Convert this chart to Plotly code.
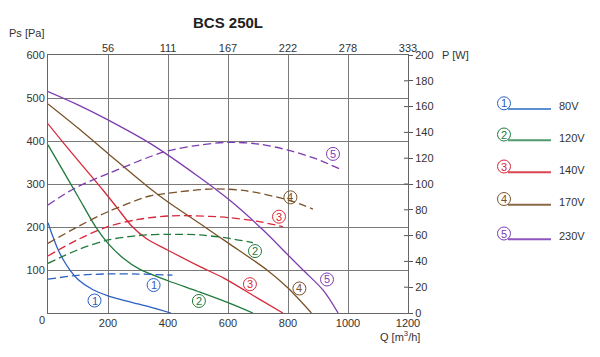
import plotly.graph_objects as go

# ---------------- data ----------------
volt_labels = ["80V", "120V", "140V", "170V", "230V"]
curve_ids = ["1", "2", "3", "4", "5"]
colors = ["#2b5fc0", "#1f7a3c", "#d7283a", "#7a5229", "#7d3cb2"]
legend_colors = ["#5b8ed2", "#4f9a6c", "#db4450", "#8a6a45", "#8d55be"]

# pressure curves Ps [Pa] vs Q [m3/h]
q_80 = [0, 15, 30, 50, 75, 100, 150, 200, 250, 300, 350, 410]
ps_80 = [210, 180, 153, 125, 98, 78, 54, 40, 30, 21, 12, 0]
q_120 = [0, 50, 100, 160, 200, 250, 305, 400, 500, 600, 683]
ps_120 = [391, 331, 271, 199, 162, 128, 102, 75, 50, 24, 0]
q_140 = [0, 50, 100, 183, 230, 278, 330, 400, 500, 589, 700, 783]
ps_140 = [440, 397, 355, 286, 245, 203, 172, 146, 110, 80, 34, 0]
q_170 = [0, 100, 200, 339, 400, 506, 600, 730, 800, 878]
ps_170 = [486, 430, 371, 290, 258, 208, 163, 100, 58, 0]
q_230 = [0, 100, 200, 339, 500, 606, 717, 800, 850, 917, 967]
ps_230 = [515, 484, 449, 395, 318, 262, 193, 135, 100, 53, 0]

# power curves P [W] vs Q [m3/h]
qp_80 = [0, 100, 200, 300, 415]
p_80 = [26.2, 29.2, 30.3, 30.2, 29.3]
qp_120 = [0, 100, 200, 300, 400, 506, 600, 683]
p_120 = [38.5, 49, 56.6, 60, 61, 60.5, 58, 54.5]
qp_140 = [0, 100, 200, 300, 400, 472, 600, 700, 783]
p_140 = [44.2, 57, 66.9, 72.5, 75.2, 75.4, 74, 71, 66.9]
qp_170 = [0, 100, 200, 339, 400, 539, 650, 800, 883]
p_170 = [54, 67, 78.5, 90.7, 92.8, 96.1, 95, 87.6, 80.6]
qp_230 = [0, 89, 200, 389, 500, 600, 700, 800, 900, 978]
p_230 = [83.7, 96.7, 108, 125, 130, 132.3, 131, 126.3, 119, 111]

q_ticks = [200, 400, 600, 800, 1000, 1200]
ls_ticks = ["56", "111", "167", "222", "278", "333"]
ps_ticks = [100, 200, 300, 400, 500, 600]
p_ticks = list(range(0, 201, 20))

pressure = [(q_80, ps_80), (q_120, ps_120), (q_140, ps_140), (q_170, ps_170), (q_230, ps_230)]
power = [(qp_80, p_80), (qp_120, p_120), (qp_140, p_140), (qp_170, p_170), (qp_230, p_230)]

# curve label positions (Q, Ps-scale) : solid label, dashed label
label_solid = [(155, 29), (503, 28), (673, 67), (838, 57), (930, 78)]
label_dash = [(352, 65), (690, 144), (770, 224), (808, 269), (950, 370)]

# ---------------- geometry helpers ----------------
L, R, T, B = 48, 192, 55, 44
W, H = 600, 357
PW, PH = W - L - R, H - T - B


def pxx(x):
    return (x - L) / PW


def pxy(y):
    return (H - B - y) / PH


FONT = "Liberation Sans, Arial, sans-serif"
TXT = "#333333"

fig = go.Figure()

for (q, ps), c in zip(pressure, colors):
    fig.add_trace(go.Scatter(x=q, y=ps, mode="lines", xaxis="x", yaxis="y",
                             line=dict(color=c, width=1.3, shape="spline", smoothing=0.9),
                             hoverinfo="skip", showlegend=False))
for (q, p), c in zip(power, colors):
    fig.add_trace(go.Scatter(x=q, y=p, mode="lines", xaxis="x", yaxis="y2",
                             line=dict(color=c, width=1.3, dash="8px,4px", shape="spline", smoothing=0.9),
                             hoverinfo="skip", showlegend=False))
# dummy trace to show the top axis
fig.add_trace(go.Scatter(x=[0, 1200], y=[0, 0], xaxis="x2", yaxis="y", mode="none",
                         hoverinfo="skip", showlegend=False))

shapes = []
annotations = []

# circled labels on curves
for lid, c, ls, ld in zip(curve_ids, colors, label_solid, label_dash):
    for (qx, py_) in (ls, ld):
        shapes.append(dict(type="circle", xref="x", yref="y", xsizemode="pixel", ysizemode="pixel",
                           xanchor=qx, yanchor=py_, x0=-6.5, x1=6.5, y0=-6.5, y1=6.5,
                           line=dict(color=c, width=1)))
        annotations.append(dict(x=qx, y=py_, xref="x", yref="y", text=lid, showarrow=False,
                                font=dict(family=FONT, size=11, color=c),
                                xanchor="center", yanchor="middle"))

# legend (drawn manually)
leg_circle_y = [103.3, 134.5, 166.5, 199, 233.5]
for i, (lid, c, lc, lab) in enumerate(zip(curve_ids, colors, legend_colors, volt_labels)):
    cy = leg_circle_y[i]
    cx = 504
    shapes.append(dict(type="circle", xref="paper", yref="paper", xsizemode="pixel", ysizemode="pixel",
                       xanchor=pxx(cx), yanchor=pxy(cy), x0=-6.5, x1=6.5, y0=-6.5, y1=6.5,
                       line=dict(color=c, width=1)))
    annotations.append(dict(x=pxx(cx), y=pxy(cy), xref="paper", yref="paper", text=lid, showarrow=False,
                            font=dict(family=FONT, size=11, color=c), xanchor="center", yanchor="middle"))
    shapes.append(dict(type="line", xref="paper", yref="paper", x0=pxx(508), x1=pxx(551),
                       y0=pxy(cy + 5.8), y1=pxy(cy + 5.8), line=dict(color=lc, width=2)))
    annotations.append(dict(x=pxx(556.5), y=pxy(cy + 3), xref="paper", yref="paper", text=lab,
                            showarrow=False, font=dict(family=FONT, size=11, color=TXT),
                            xanchor="left", yanchor="middle"))

# inner parts of right-axis tick marks
for v in p_ticks[1:-1]:
    shapes.append(dict(type="line", xref="paper", yref="paper", x0=pxx(404), x1=1.0,
                       y0=v / 200, y1=v / 200, line=dict(color="#555555", width=1)))

# texts
annotations += [
    dict(x=pxx(228), y=pxy(22), xref="paper", yref="paper", text="<b>BCS 250L</b>", showarrow=False,
         font=dict(family=FONT, size=15, color="#222222"), xanchor="center", yanchor="middle"),
    dict(x=pxx(7), y=pxy(33), xref="paper", yref="paper", text="Ps [Pa]", showarrow=False,
         font=dict(family=FONT, size=11, color=TXT), xanchor="left", yanchor="middle"),
    dict(x=pxx(440), y=pxy(55), xref="paper", yref="paper", text="P [W]", showarrow=False,
         font=dict(family=FONT, size=11, color=TXT), xanchor="left", yanchor="middle"),
    dict(x=pxx(422), y=pxy(336), xref="paper", yref="paper", text="Q [m<sup>3</sup>/h]", showarrow=False,
         font=dict(family=FONT, size=11, color=TXT), xanchor="right", yanchor="middle"),
    dict(x=pxx(41.5), y=pxy(320), xref="paper", yref="paper", text="0", showarrow=False,
         font=dict(family=FONT, size=11, color=TXT), xanchor="center", yanchor="middle"),
]

GRID = "#7a7a7a"
fig.update_layout(
    width=W, height=H,
    margin=dict(l=L, r=R, t=T, b=B, autoexpand=False),
    paper_bgcolor="white", plot_bgcolor="white",
    font=dict(family=FONT, size=11, color=TXT),
    showlegend=False,
    xaxis=dict(range=[0, 1200], tickvals=q_ticks, showgrid=True, gridcolor=GRID, gridwidth=1,
               showline=True, linecolor="#666666", linewidth=1, mirror=True, zeroline=False,
               ticks="", tickfont=dict(size=11, color=TXT), fixedrange=True, automargin=False),
    xaxis2=dict(range=[0, 1200], overlaying="x", side="top", tickvals=q_ticks, ticktext=ls_ticks,
                showgrid=False, zeroline=False, showline=False, ticks="",
                tickfont=dict(size=11, color=TXT), fixedrange=True, automargin=False),
    yaxis=dict(range=[0, 600], tickvals=ps_ticks, showgrid=True, gridcolor=GRID, gridwidth=1,
               showline=True, linecolor="#666666", linewidth=1, mirror=True, zeroline=False,
               ticks="", tickfont=dict(size=11, color=TXT), fixedrange=True, automargin=False),
    yaxis2=dict(range=[0, 200], overlaying="y", side="right", tickvals=p_ticks, showgrid=False,
                zeroline=False, showline=False, ticks="outside", ticklen=4, tickcolor="#555555",
                tickfont=dict(size=11, color=TXT), fixedrange=True, automargin=False),
    shapes=shapes,
    annotations=annotations,
)

fig.write_html("out.html", config={"displayModeBar": False},
               post_script="document.body.style.margin='0';document.body.style.padding='0';")
